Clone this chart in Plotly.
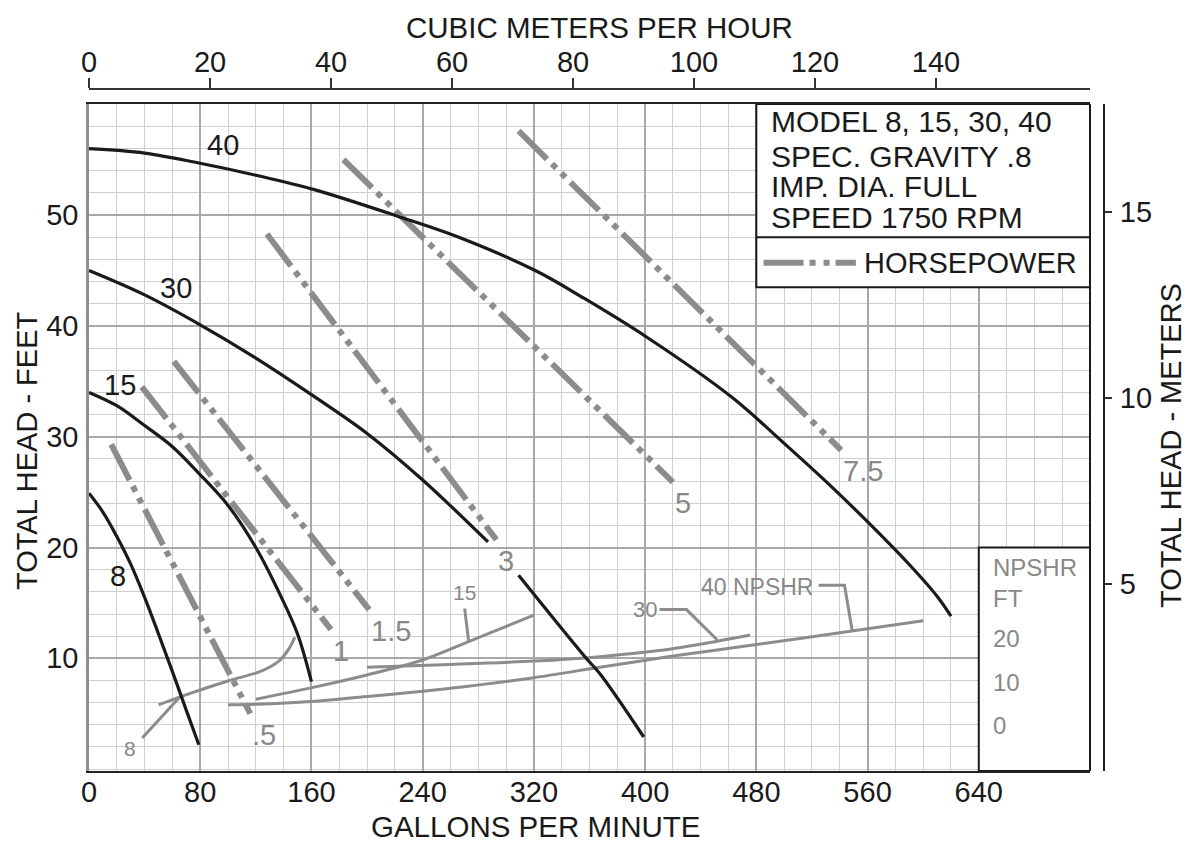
import plotly.graph_objects as go

FONT = "Liberation Sans, Arial, Helvetica, sans-serif"
BLACK = "#1a1a1a"
GRAY = "#8c8c8c"
TEXTGRAY = "#888888"

# ---------------- data ----------------
# Pump performance curves: flow (GPM) vs total head (ft)
gpm_8 = [0, 10, 20, 30, 40, 50, 60, 70, 79]
head_8 = [24.9, 23.2, 21.0, 18.5, 15.5, 12.2, 8.8, 5.3, 2.2]

gpm_15 = [0, 20, 39, 60, 79, 100, 120, 138, 150, 160]
head_15 = [34.0, 32.8, 31.1, 29.1, 26.7, 23.8, 20.0, 15.6, 12.2, 7.9]

gpm_30 = [0, 40, 80, 120, 160, 200, 240, 287, None, 309, 357, 367.5, 399]
head_30 = [45.0, 42.8, 40.1, 37.1, 33.8, 30.3, 26.1, 20.5, None, 17.5, 10.1, 8.6, 2.9]

gpm_40 = [0, 40, 79, 120, 162, 222, 266, 321, 356, 401, 462, 500, 534, 561, 589, 610, 620]
head_40 = [56.0, 55.6, 54.7, 53.6, 52.3, 49.9, 48.0, 45.0, 42.5, 39.0, 33.6, 29.4, 25.5, 22.2, 18.6, 15.6, 13.8]

model_labels = ["8", "15", "30", "40"]
model_label_gpm = [21.2, 22.3, 62.5, 96.3]
model_label_head = [17.4, 34.7, 43.4, 56.3]

# Horsepower lines (straight)
hp_labels = [".5", "1", "1.5", "3", "5", "7.5"]
hp_gpm_start = [16, 38, 61, 128, 183, 309]
hp_head_start = [29.3, 34.5, 36.8, 48.3, 55.0, 57.6]
hp_gpm_end = [116, 174, 201.5, 293, 420, 541]
hp_head_end = [5.0, 12.6, 14.4, 20.7, 25.9, 28.8]

# NPSHR curves (drawn on the head axis)
npshr_gpm_8 = [50, 65, 101, 123, 137, 144, 148]
npshr_head_8 = [5.8, 6.5, 8.0, 8.8, 9.8, 10.9, 11.9]
npshr_gpm_15 = [120, 162, 200, 239, 273, 320]
npshr_head_15 = [6.3, 7.4, 8.5, 9.8, 11.5, 13.9]
npshr_gpm_30 = [200, 260, 320, 367.5, 410, 450, 475.5]
npshr_head_30 = [9.2, 9.45, 9.75, 10.15, 10.7, 11.5, 12.1]
npshr_gpm_40 = [100, 120, 160, 200, 260, 320, 367.5, 420, 480, 540, 600]
npshr_head_40 = [5.8, 5.85, 6.1, 6.55, 7.3, 8.25, 9.2, 10.2, 11.25, 12.3, 13.4]

# leader lines from NPSHR labels to their curves
leader_gpm_8 = [38.3, 65.3]
leader_head_8 = [2.8, 6.5]
leader_gpm_15 = [270.2, 273.1]
leader_head_15 = [14.5, 11.5]
leader_gpm_30 = [410.4, 429.8, 451.9]
leader_head_30 = [14.4, 14.4, 11.65]
leader_gpm_40 = [524.8, 543.4, 548.9]
leader_head_40 = [16.6, 16.6, 12.55]

npshr_labels = ["8", "15", "30", "40 NPSHR"]
npshr_label_gpm = [29.6, 270.3, 400.0, 438.9]
npshr_label_head = [1.9, 15.9, 14.4, 16.46]

# axes ticks
gpm_ticks = [0, 80, 160, 240, 320, 400, 480, 560, 640]
head_ticks = [10, 20, 30, 40, 50]
m3h_ticks = [0, 20, 40, 60, 80, 100, 120, 140]
meter_ticks = [5, 10, 15]

info_lines = ["MODEL 8, 15, 30, 40", "SPEC. GRAVITY .8", "IMP. DIA. FULL", "SPEED 1750 RPM"]
npshr_scale_text = ["NPSHR", "FT", "20", "10", "0"]

# ---------------- geometry ----------------
W, H = 1204, 842
OFF = 8  # page body margin
ML = 89 - OFF
MT = 89 - OFF
MR = W - (1104 - OFF)
MB = H - (771 - OFF)
PW = W - ML - MR
PH = H - MT - MB
xdom = [0, (1090 - 89) / PW]
ydom = [0, (771 - 104) / PH]
xr = [0, 720]
yr = [-0.17, 60.03]

HP_DASH = "40px,7px,6px,7px,6px,7px"

fig = go.Figure()

# NPSHR curves
for gx, hy in [(npshr_gpm_8, npshr_head_8), (npshr_gpm_15, npshr_head_15),
               (npshr_gpm_30, npshr_head_30), (npshr_gpm_40, npshr_head_40)]:
    fig.add_trace(go.Scatter(x=gx, y=hy, mode="lines",
                             line=dict(color=GRAY, width=3, shape="spline", smoothing=0.8),
                             hoverinfo="skip"))
for gx, hy in [(leader_gpm_8, leader_head_8), (leader_gpm_15, leader_head_15),
               (leader_gpm_30, leader_head_30), (leader_gpm_40, leader_head_40)]:
    fig.add_trace(go.Scatter(x=gx, y=hy, mode="lines",
                             line=dict(color=GRAY, width=3), hoverinfo="skip"))

# Horsepower lines
for i in range(len(hp_labels)):
    fig.add_trace(go.Scatter(x=[hp_gpm_start[i], hp_gpm_end[i]],
                             y=[hp_head_start[i], hp_head_end[i]], mode="lines",
                             line=dict(color=GRAY, width=6, dash=HP_DASH),
                             hoverinfo="skip"))

# Pump curves
for gx, hy in [(gpm_8, head_8), (gpm_15, head_15), (gpm_30, head_30), (gpm_40, head_40)]:
    fig.add_trace(go.Scatter(x=gx, y=hy, mode="lines", connectgaps=False,
                             line=dict(color=BLACK, width=3.2, shape="spline", smoothing=1.0),
                             hoverinfo="skip"))

# dummy trace to create secondary axes subplot
fig.add_trace(go.Scatter(x=[None], y=[None], xaxis="x2", yaxis="y2",
                         mode="lines", hoverinfo="skip"))

annotations = []
# model labels
for t, gx, hy in zip(model_labels, model_label_gpm, model_label_head):
    annotations.append(dict(x=gx, y=hy, xref="x", yref="y", text=t, showarrow=False,
                            xanchor="center", yanchor="middle",
                            font=dict(family=FONT, size=29, color=BLACK)))
# hp labels
for i, t in enumerate(hp_labels):
    annotations.append(dict(x=hp_gpm_end[i], y=hp_head_end[i], xref="x", yref="y", text=t,
                            showarrow=False, xanchor="left", yanchor="top", yshift=-3,
                            font=dict(family=FONT, size=29, color=TEXTGRAY)))
# npshr labels
for j, (t, gx, hy) in enumerate(zip(npshr_labels, npshr_label_gpm, npshr_label_head)):
    if t == "40 NPSHR":
        annotations.append(dict(x=gx, y=hy, xref="x", yref="y", text=t, showarrow=False,
                                xanchor="left", yanchor="middle",
                                font=dict(family=FONT, size=23, color=TEXTGRAY)))
    else:
        annotations.append(dict(x=gx, y=hy, xref="x", yref="y", text=t, showarrow=False,
                                xanchor="center", yanchor="middle",
                                font=dict(family=FONT, size=21 if j < 2 else 22, color=TEXTGRAY)))

# info box text
info_y = [58.43, 55.27, 52.56, 49.78]
for t, yy in zip(info_lines, info_y):
    annotations.append(dict(x=489.3, y=yy, xref="x", yref="y", text=t, showarrow=False,
                            xanchor="left", yanchor="middle",
                            font=dict(family=FONT, size=30, color=BLACK)))
annotations.append(dict(x=556.3, y=45.72, xref="x", yref="y", text="HORSEPOWER", showarrow=False,
                        xanchor="left", yanchor="middle",
                        font=dict(family=FONT, size=29, color=BLACK)))

# NPSHR scale text
npshr_text_y = [18.17, 15.44, 11.79, 7.86, 3.98]
for t, yy in zip(npshr_scale_text, npshr_text_y):
    annotations.append(dict(x=648.6, y=yy, xref="x", yref="y", text=t, showarrow=False,
                            xanchor="left", yanchor="middle",
                            font=dict(family=FONT, size=24, color=TEXTGRAY)))


# axis titles (positions given in page pixels)
def px2paper(px, py):
    return (px - 89) / PW, (771 - py) / PH


def title(text, px, py, angle=0, size=29.5):
    x, y = px2paper(px, py)
    annotations.append(dict(x=x, y=y, xref="paper", yref="paper", text=text,
                            showarrow=False, xanchor="center", yanchor="middle",
                            textangle=angle, font=dict(family=FONT, size=size, color=BLACK)))


title("CUBIC METERS PER HOUR", 599, 27)
title("GALLONS PER MINUTE", 535.5, 826)
title("TOTAL HEAD - FEET", 27, 451, -90, 29)
title("TOTAL HEAD - METERS", 1171, 446, -90, 29)

shapes = [
    # info box
    dict(type="rect", xref="x", yref="y", x0=480, x1=720, y0=43.5, y1=yr[1],
         fillcolor="white", line=dict(color=BLACK, width=2), layer="between"),
    dict(type="line", xref="x", yref="y", x0=480, x1=720, y0=48, y1=48,
         line=dict(color=BLACK, width=2), layer="between"),
    dict(type="line", xref="x", yref="y", x0=485.2, x1=551.6, y0=45.7, y1=45.7,
         line=dict(color=GRAY, width=6, dash="40px,6px,6px,8px,6px,6px"), layer="above"),
    # NPSHR box
    dict(type="rect", xref="x", yref="y", x0=640, x1=720, y0=yr[0], y1=20,
         fillcolor="white", line=dict(color=BLACK, width=2), layer="between"),
    # right border of the plot
    dict(type="line", xref="x domain", yref="y domain", x0=1, x1=1, y0=0, y1=1,
         line=dict(color=BLACK, width=2), layer="above"),
]

tickfont = dict(family=FONT, size=29, color=BLACK)

fig.update_layout(
    width=W, height=H, autosize=False,
    margin=dict(l=ML, r=MR, t=MT, b=MB, pad=0),
    paper_bgcolor="white", plot_bgcolor="white",
    showlegend=False,
    font=dict(family=FONT, color=BLACK),
    xaxis=dict(domain=xdom, range=xr, tickmode="array", tickvals=gpm_ticks, ticks="",
               tickfont=tickfont, ticklabelstandoff=-6,
               showgrid=True, gridcolor="#a8a8a8", gridwidth=1.5,
               minor=dict(dtick=20, tick0=0, showgrid=True, gridcolor="#cfcfcf", gridwidth=1),
               showline=True, linecolor="#222222", linewidth=2, mirror=True,
               zeroline=False, anchor="y", fixedrange=True),
    yaxis=dict(domain=ydom, range=yr, tickmode="array", tickvals=head_ticks, ticks="",
               tickfont=tickfont, ticklabelstandoff=2,
               showgrid=True, gridcolor="#a8a8a8", gridwidth=1.5,
               minor=dict(dtick=2, tick0=0, showgrid=True, gridcolor="#cfcfcf", gridwidth=1),
               showline=True, linecolor="#8f8f8f", linewidth=2.5, mirror=False,
               zeroline=False, anchor="x", fixedrange=True),
    xaxis2=dict(overlaying="x", side="top", anchor="free", position=1, domain=xdom,
                range=[0, 1001 / 6.05], tickmode="array", tickvals=m3h_ticks,
                ticks="outside", ticklen=10, tickwidth=2, tickcolor="#333333",
                tickfont=tickfont, ticklabelstandoff=-6,
                showline=True, linecolor="#333333", linewidth=2,
                showgrid=False, zeroline=False, fixedrange=True),
    yaxis2=dict(overlaying="y", side="right", anchor="free", position=1, domain=ydom,
                range=[-0.02, 17.91], tickmode="array", tickvals=meter_ticks,
                ticks="outside", ticklen=7, tickwidth=2, tickcolor="#333333",
                tickfont=tickfont, ticklabelstandoff=2,
                showline=True, linecolor="#222222", linewidth=2,
                showgrid=False, zeroline=False, fixedrange=True),
    annotations=annotations,
    shapes=shapes,
)

fig.write_html("out.html")
